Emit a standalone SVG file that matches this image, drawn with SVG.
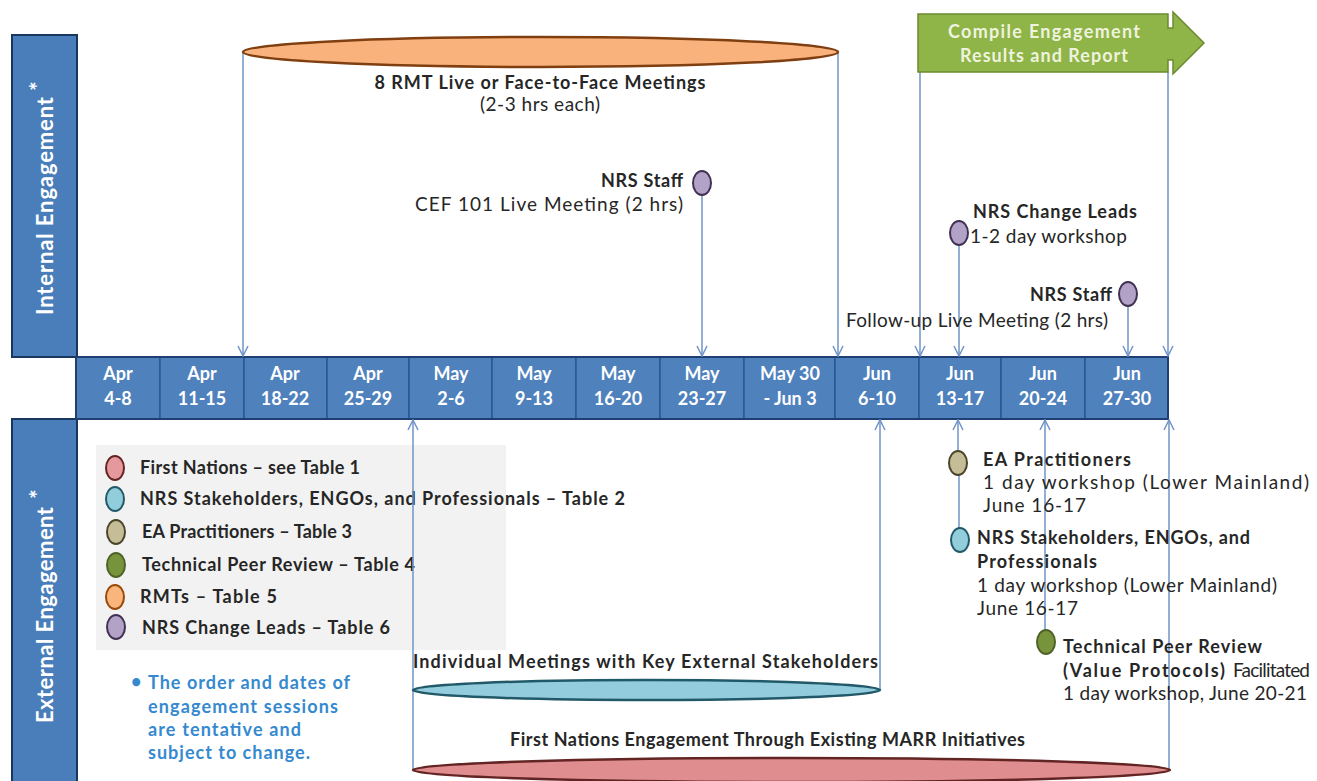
<svg xmlns="http://www.w3.org/2000/svg" width="1317" height="781" viewBox="0 0 1317 781">
  <style>
    .t{font-family:Lato,"Liberation Sans",sans-serif;font-size:18px;fill:#262626}
    .b{font-weight:bold}
    .r{font-size:19px}
    .side{fill:#4a7ebb;stroke:#17375e;stroke-width:2}
    .sidet{font-family:Lato,"Liberation Sans",sans-serif;font-weight:bold;font-size:22px;fill:#ffffff}
    .cell{fill:#4f81bd;stroke:#2b5893;stroke-width:1.5}
    .cellt{font-family:Lato,"Liberation Sans",sans-serif;font-weight:bold;font-size:18px;fill:#ffffff;text-anchor:middle}
    .conn{stroke:#7094c8;stroke-width:1.5;fill:none}
    .note{font-family:Lato,"Liberation Sans",sans-serif;font-weight:bold;font-size:18px;fill:#3589cf}
    .fn{fill:#e6999d;stroke:#632523;stroke-width:2}
    .st{fill:#92cddc;stroke:#215968;stroke-width:2}
    .ea{fill:#c4bd97;stroke:#4a452a;stroke-width:2}
    .tp{fill:#77933c;stroke:#4f6228;stroke-width:2}
    .rm{fill:#fab57c;stroke:#984807;stroke-width:2}
    .cl{fill:#b3a2c7;stroke:#403152;stroke-width:2}
  </style>
  <defs>
    <marker id="arr" viewBox="0 0 12 12" refX="11" refY="6" markerWidth="12" markerHeight="12" markerUnits="userSpaceOnUse" orient="auto">
      <path d="M1,1 L11,6 L1,11" fill="none" stroke="#7094c8" stroke-width="1.5"/>
    </marker>
  </defs>

  <rect width="1317" height="781" fill="#ffffff"/>

  <!-- side headers -->
  <g id="internal-header">
    <rect class="side" x="12" y="35" width="65" height="322"/>
    <text class="sidet" transform="translate(53,206) rotate(-90)" text-anchor="middle" textLength="218">Internal Engagement</text>
    <text class="sidet" transform="translate(53,206) rotate(-90)" x="120" y="-7" text-anchor="middle" font-size="17">*</text>
  </g>
  <g id="external-header">
    <rect class="side" x="12" y="419" width="65" height="364"/>
    <text class="sidet" transform="translate(53,615) rotate(-90)" text-anchor="middle" textLength="216">External Engagement</text>
    <text class="sidet" transform="translate(53,615) rotate(-90)" x="121" y="-7" text-anchor="middle" font-size="17">*</text>
  </g>

  <!-- legend panel -->
  <g id="legend">
    <rect x="96" y="445" width="410" height="205" fill="#f2f2f2"/>
    <ellipse class="fn" cx="115" cy="468" rx="9" ry="12"/>
    <text class="t b" x="140" y="474" textLength="220">First Nations – see Table 1</text>
    <ellipse class="st" cx="115" cy="499" rx="9" ry="12"/>
    <text class="t b" x="140" y="505" textLength="485">NRS Stakeholders, ENGOs, and Professionals – Table 2</text>
    <ellipse class="ea" cx="116" cy="532" rx="9" ry="12"/>
    <text class="t b" x="142" y="538" textLength="210">EA Practitioners – Table 3</text>
    <ellipse class="tp" cx="116" cy="565" rx="9" ry="12"/>
    <text class="t b" x="142" y="571" textLength="273">Technical Peer Review – Table 4</text>
    <ellipse class="rm" cx="115" cy="597" rx="9" ry="12"/>
    <text class="t b" x="140" y="603" textLength="137">RMTs – Table 5</text>
    <ellipse class="cl" cx="116" cy="627" rx="9" ry="12"/>
    <text class="t b" x="142" y="634" textLength="248">NRS Change Leads – Table 6</text>
  </g>

  <g id="disclaimer">
    <text class="note" x="131" y="688" font-size="13">•</text>
    <text class="note" x="148" y="689" textLength="202">The order and dates of</text>
    <text class="note" x="148" y="713" textLength="190">engagement sessions</text>
    <text class="note" x="148" y="736" textLength="153">are tentative and</text>
    <text class="note" x="148" y="759" textLength="162">subject to change.</text>
  </g>

  <!-- week timeline -->
  <g id="timeline">
    <rect class="cell" x="76" y="357" width="84" height="62"/>
    <rect class="cell" x="160" y="357" width="84" height="62"/>
    <rect class="cell" x="244" y="357" width="83" height="62"/>
    <rect class="cell" x="327" y="357" width="82" height="62"/>
    <rect class="cell" x="409" y="357" width="83" height="62"/>
    <rect class="cell" x="492" y="357" width="84" height="62"/>
    <rect class="cell" x="576" y="357" width="84" height="62"/>
    <rect class="cell" x="660" y="357" width="84" height="62"/>
    <rect class="cell" x="744" y="357" width="91" height="62"/>
    <rect class="cell" x="835" y="357" width="84" height="62"/>
    <rect class="cell" x="919" y="357" width="82" height="62"/>
    <rect class="cell" x="1001" y="357" width="84" height="62"/>
    <rect class="cell" x="1085" y="357" width="83" height="62"/>
    <rect x="76" y="357" width="1092" height="62" fill="none" stroke="#1f3f73" stroke-width="2"/>
    <text class="cellt" x="118" y="380">Apr</text><text class="cellt" x="118" y="405">4-8</text>
    <text class="cellt" x="202" y="380">Apr</text><text class="cellt" x="202" y="405">11-15</text>
    <text class="cellt" x="285" y="380">Apr</text><text class="cellt" x="285" y="405">18-22</text>
    <text class="cellt" x="368" y="380">Apr</text><text class="cellt" x="368" y="405">25-29</text>
    <text class="cellt" x="451" y="380">May</text><text class="cellt" x="451" y="405">2-6</text>
    <text class="cellt" x="534" y="380">May</text><text class="cellt" x="534" y="405">9-13</text>
    <text class="cellt" x="618" y="380">May</text><text class="cellt" x="618" y="405">16-20</text>
    <text class="cellt" x="702" y="380">May</text><text class="cellt" x="702" y="405">23-27</text>
    <text class="cellt" x="790" y="380">May 30</text><text class="cellt" x="790" y="405">- Jun 3</text>
    <text class="cellt" x="877" y="380">Jun</text><text class="cellt" x="877" y="405">6-10</text>
    <text class="cellt" x="960" y="380">Jun</text><text class="cellt" x="960" y="405">13-17</text>
    <text class="cellt" x="1043" y="380">Jun</text><text class="cellt" x="1043" y="405">20-24</text>
    <text class="cellt" x="1127" y="380">Jun</text><text class="cellt" x="1127" y="405">27-30</text>
  </g>

  <!-- connectors -->
  <g id="connectors">
    <path class="conn" d="M243,52 V356" marker-end="url(#arr)"/>
    <path class="conn" d="M838,52 V356" marker-end="url(#arr)"/>
    <path class="conn" d="M702,195 V356" marker-end="url(#arr)"/>
    <path class="conn" d="M920,72 V356" marker-end="url(#arr)"/>
    <path class="conn" d="M1168,72 V356" marker-end="url(#arr)"/>
    <path class="conn" d="M959,245 V356" marker-end="url(#arr)"/>
    <path class="conn" d="M1128,306 V356" marker-end="url(#arr)"/>
    <path class="conn" d="M413,770 V420" marker-end="url(#arr)"/>
    <path class="conn" d="M880,690 V420" marker-end="url(#arr)"/>
    <path class="conn" d="M1169,770 V420" marker-end="url(#arr)"/>
    <path class="conn" d="M958,451 V420" marker-end="url(#arr)"/>
    <path class="conn" d="M1045,630 V420" marker-end="url(#arr)"/>
    <path class="conn" d="M959,475 V528"/>
  </g>

  <!-- internal engagement events -->
  <g id="rmt-meetings">
    <ellipse cx="540.5" cy="52" rx="297.5" ry="15" fill="#f9b27c" stroke="#7f3f10" stroke-width="2.5"/>
    <text class="t b" x="540" y="89" text-anchor="middle" textLength="331">8 RMT Live or Face-to-Face Meetings</text>
    <text class="t r" x="540" y="111" text-anchor="middle" textLength="120">(2-3 hrs each)</text>
  </g>

  <g id="compile-report">
    <path d="M918,14 H1168 V28 H1173 V12 L1204,43 L1173,74 V60 H1168 V72 H918 Z" fill="#8fb447" stroke="#6b8a30" stroke-width="1.5"/>
    <text class="t b" x="1044" y="38" text-anchor="middle" textLength="192" style="fill:#eef3df">Compile Engagement</text>
    <text class="t b" x="1044" y="62" text-anchor="middle" textLength="168" style="fill:#eef3df">Results and Report</text>
  </g>

  <g id="nrs-staff-cef101">
    <ellipse class="cl" cx="702" cy="183" rx="9" ry="12"/>
    <text class="t b" x="683" y="187" text-anchor="end" textLength="82">NRS Staff</text>
    <text class="t r" x="683" y="211" text-anchor="end" textLength="268">CEF 101 Live Meeting (2 hrs)</text>
  </g>

  <g id="nrs-change-leads">
    <ellipse class="cl" cx="959" cy="233" rx="9" ry="12"/>
    <text class="t b" x="973" y="218" textLength="164">NRS Change Leads</text>
    <text class="t r" x="970" y="243" textLength="157">1-2 day workshop</text>
  </g>

  <g id="nrs-staff-followup">
    <ellipse class="cl" cx="1128" cy="294" rx="9" ry="12"/>
    <text class="t b" x="1112" y="301" text-anchor="end" textLength="82">NRS Staff</text>
    <text class="t r" x="846" y="327" textLength="262">Follow-up Live Meeting (2 hrs)</text>
  </g>

  <!-- external engagement events -->
  <g id="individual-meetings">
    <text class="t b" x="413" y="668" textLength="465">Individual Meetings with Key External Stakeholders</text>
    <ellipse cx="646.5" cy="690" rx="233.5" ry="10" fill="#93cddd" stroke="#215968" stroke-width="2.5"/>
  </g>

  <g id="first-nations-marr">
    <text class="t b" x="510" y="746" textLength="515">First Nations Engagement Through Existing MARR Initiatives</text>
    <ellipse cx="791.5" cy="770" rx="378.5" ry="12" fill="#df8d8f" stroke="#632523" stroke-width="2.5"/>
  </g>

  <g id="ea-practitioners">
    <ellipse class="ea" cx="958" cy="463" rx="9" ry="12"/>
    <text class="t b" x="983" y="466" textLength="148">EA Practitioners</text>
    <text class="t r" x="983" y="489" textLength="326">1 day workshop (Lower Mainland)</text>
    <text class="t r" x="983" y="512" textLength="103">June 16-17</text>
  </g>

  <g id="nrs-stakeholders">
    <ellipse class="st" cx="960" cy="540" rx="9" ry="12"/>
    <text class="t b" x="977" y="544" textLength="273">NRS Stakeholders, ENGOs, and</text>
    <text class="t b" x="977" y="568" textLength="120">Professionals</text>
    <text class="t r" x="977" y="592" textLength="300">1 day workshop (Lower Mainland)</text>
    <text class="t r" x="977" y="615" textLength="101">June 16-17</text>
  </g>

  <g id="technical-peer-review">
    <ellipse class="tp" cx="1046" cy="642" rx="9" ry="12"/>
    <text class="t b" x="1063" y="653" textLength="199">Technical Peer Review</text>
    <text class="t b" x="1063" y="677" textLength="162">(Value Protocols)</text>
    <text class="t r" x="1233" y="677" textLength="77">Facilitated</text>
    <text class="t r" x="1063" y="700" textLength="244">1 day workshop, June 20-21</text>
  </g>
</svg>
